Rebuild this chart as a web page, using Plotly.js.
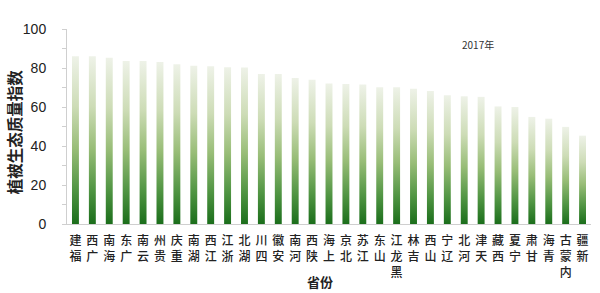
<!DOCTYPE html>
<html>
<head>
<meta charset="utf-8">
<script src="https://cdn.plot.ly/plotly-3.0.1.min.js"></script>
<style>
  html, body { margin: 0; padding: 0; background: #fff; }
  #chart { width: 600px; height: 293px; }
</style>
</head>
<body>
<div id="chart"></div>
<script>
const provinces = ["福建","广西","海南","广东","云南","贵州","重庆","湖南","江西","浙江","湖北",
  "四川","安徽","河南","陕西","上海","北京","江苏","山东","黑龙江","吉林","山西","辽宁",
  "河北","天津","西藏","宁夏","甘肃","青海","内蒙古","新疆"];
const vegetationIndex = [86.0,86.0,85.3,83.6,83.6,83.1,81.9,81.2,80.9,80.4,80.3,
  76.9,76.9,74.9,74.0,72.0,71.8,71.5,70.1,70.1,69.4,68.2,66.0,
  65.5,65.2,60.3,60.0,54.9,54.0,49.8,45.3];
const yTickVals = [0,20,40,60,80,100];
const yTickText = ["0","20","40","60","80","100"];

// Labels are drawn upright and read bottom-to-top, so stack the characters in reverse.
const stackedLabels = provinces.map(p => Array.from(p).reverse().join("<br>"));

const trace = {
  type: "bar",
  x: provinces,
  y: vegetationIndex,
  marker: { color: "#7aaa5a", line: { width: 0 } },
  hoverinfo: "x+y"
};

const layout = {
  width: 600, height: 293,
  margin: { l: 67, r: 9, t: 29, b: 68.5, pad: 0 },
  paper_bgcolor: "#ffffff",
  plot_bgcolor: "#ffffff",
  bargap: 0.59,
  showlegend: false,
  font: { family: "Liberation Sans, Arial, sans-serif", color: "#222" },
  xaxis: {
    type: "category",
    tickmode: "array",
    tickvals: provinces,
    ticktext: stackedLabels,
    tickangle: 0,
    ticks: "",
    ticklabelstandoff: 6,
    showgrid: false,
    zeroline: false,
    showline: true,
    linecolor: "#cfcfcf",
    linewidth: 1,
    tickfont: { family: "Noto Sans CJK SC", size: 12, weight: 500, color: "#222" },
    fixedrange: true
  },
  yaxis: {
    range: [0, 100],
    tickmode: "array",
    tickvals: yTickVals,
    ticktext: yTickText,
    ticks: "outside",
    ticklen: 4,
    tickcolor: "#cfcfcf",
    ticklabelstandoff: 13,
    minor: { dtick: 10, ticks: "outside", ticklen: 4, tickcolor: "#cfcfcf", showgrid: false },
    showgrid: false,
    zeroline: false,
    showline: true,
    linecolor: "#cfcfcf",
    linewidth: 1,
    tickfont: { family: "Liberation Sans, Arial, sans-serif", size: 14, color: "#222" },
    fixedrange: true
  },
  annotations: [
    {
      text: "2017年",
      xref: "paper", yref: "paper",
      x: 0.785, y: 0.92,
      xanchor: "center", yanchor: "middle",
      showarrow: false,
      font: { family: "Noto Sans CJK SC", size: 10, color: "#333" }
    },
    {
      text: "<b>省份</b>",
      xref: "paper", yref: "paper",
      x: 0.482, y: -0.295,
      xanchor: "center", yanchor: "middle",
      showarrow: false,
      font: { family: "Noto Sans CJK SC", size: 13, color: "#222" }
    },
    {
      text: "<b>植被生态质量指数</b>",
      xref: "paper", yref: "paper",
      x: -0.1006, y: 0.472,
      xanchor: "center", yanchor: "middle",
      textangle: -90,
      showarrow: false,
      font: { family: "Noto Sans CJK SC", size: 15.5, color: "#222" }
    }
  ]
};

Plotly.newPlot("chart", [trace], layout, { staticPlot: true, displayModeBar: false }).then(gd => {
  const svg = gd.querySelector("svg.main-svg");
  const ns = "http://www.w3.org/2000/svg";
  let defs = svg.querySelector("defs");
  if (!defs) { defs = document.createElementNS(ns, "defs"); svg.insertBefore(defs, svg.firstChild); }
  const grad = document.createElementNS(ns, "linearGradient");
  grad.setAttribute("id", "barGradient");
  grad.setAttribute("x1", "0"); grad.setAttribute("y1", "0");
  grad.setAttribute("x2", "0"); grad.setAttribute("y2", "1");
  [["0", "#eef2e8"], ["0.3", "#cddcb6"], ["0.55", "#98bd77"], ["0.8", "#4f9442"], ["1", "#1b6e1b"]].forEach(([o, c]) => {
    const s = document.createElementNS(ns, "stop");
    s.setAttribute("offset", o);
    s.setAttribute("stop-color", c);
    grad.appendChild(s);
  });
  defs.appendChild(grad);
  gd.querySelectorAll(".bars .point path").forEach(p => { p.style.fill = "url(#barGradient)"; });
});
</script>
</body>
</html>
